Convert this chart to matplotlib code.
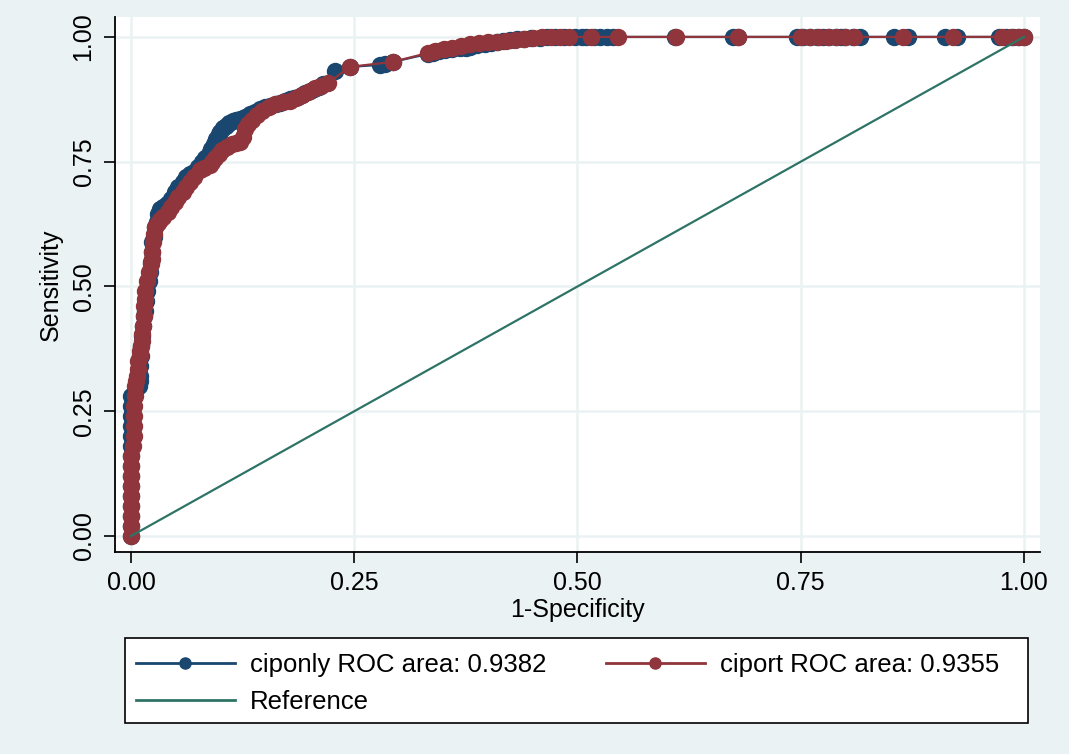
import matplotlib.pyplot as plt
from matplotlib.lines import Line2D
from matplotlib.patches import Rectangle

# ROC points: (1-specificity, sensitivity)
ciponly_pts = [
    (0, 0), (0, 0.02), (0, 0.04), (0, 0.06), (0, 0.08), (0, 0.10), (0, 0.12),
    (0, 0.14), (0, 0.16), (0, 0.18), (0, 0.20), (0, 0.22), (0, 0.24),
    (0, 0.26), (0, 0.28), (0.003, 0.285), (0.006, 0.295), (0.009, 0.30),
    (0.01, 0.31), (0.01, 0.32), (0.01, 0.34), (0.011, 0.36), (0.011, 0.38),
    (0.012, 0.40), (0.013, 0.42), (0.014, 0.44), (0.016, 0.45), (0.017, 0.47),
    (0.018, 0.49), (0.02, 0.51), (0.021, 0.53), (0.022, 0.55), (0.023, 0.57),
    (0.024, 0.59), (0.026, 0.60), (0.027, 0.62), (0.029, 0.63), (0.03, 0.645),
    (0.032, 0.655), (0.036, 0.66), (0.04, 0.665), (0.045, 0.675),
    (0.049, 0.69), (0.053, 0.70), (0.058, 0.71), (0.062, 0.72), (0.066, 0.725),
    (0.07, 0.73), (0.075, 0.74), (0.08, 0.75), (0.083, 0.757), (0.087, 0.765),
    (0.09, 0.775), (0.093, 0.785), (0.095, 0.795), (0.098, 0.805),
    (0.1, 0.81), (0.103, 0.817), (0.106, 0.822), (0.11, 0.828),
    (0.114, 0.831), (0.118, 0.833), (0.122, 0.835), (0.128, 0.84),
    (0.133, 0.845), (0.139, 0.85), (0.145, 0.855), (0.15, 0.86),
    (0.156, 0.862), (0.162, 0.865), (0.167, 0.868), (0.172, 0.872),
    (0.178, 0.875), (0.183, 0.877), (0.187, 0.88), (0.191, 0.884),
    (0.195, 0.888), (0.2, 0.892), (0.205, 0.895), (0.21, 0.9), (0.215, 0.905),
    (0.228, 0.932), (0.245, 0.94), (0.279, 0.944), (0.285, 0.946),
    (0.293, 0.95), (0.333, 0.966), (0.338, 0.968), (0.345, 0.972),
    (0.352, 0.974), (0.36, 0.975), (0.368, 0.977), (0.375, 0.978),
    (0.38, 0.98), (0.388, 0.983), (0.396, 0.986), (0.403, 0.988),
    (0.41, 0.99), (0.417, 0.992), (0.424, 0.994), (0.432, 0.995),
    (0.44, 0.996), (0.448, 0.997), (0.458, 0.998), (0.466, 0.999),
    (0.475, 1), (0.485, 1), (0.497, 1), (0.505, 1), (0.51, 1), (0.518, 1),
    (0.525, 1), (0.533, 1), (0.54, 1), (0.609, 1), (0.674, 1), (0.68, 1),
    (0.746, 1), (0.753, 1), (0.76, 1), (0.768, 1), (0.775, 1), (0.782, 1),
    (0.79, 1), (0.795, 1), (0.8, 1), (0.808, 1), (0.816, 1), (0.855, 1),
    (0.87, 1), (0.912, 1), (0.925, 1), (0.972, 1), (0.98, 1), (0.988, 1),
    (0.995, 1), (1, 1),
]

ciport_pts = [
    (0, 0), (0, 0.02), (0, 0.04), (0, 0.06), (0, 0.08), (0, 0.10), (0, 0.12),
    (0, 0.14), (0, 0.16), (0.002, 0.18), (0.003, 0.20), (0.003, 0.22),
    (0.003, 0.24), (0.003, 0.26), (0.004, 0.28), (0.005, 0.30),
    (0.006, 0.31), (0.007, 0.32), (0.008, 0.335), (0.008, 0.35),
    (0.01, 0.36), (0.01, 0.37), (0.011, 0.38), (0.012, 0.39), (0.012, 0.405),
    (0.013, 0.42), (0.014, 0.44), (0.015, 0.46), (0.016, 0.475),
    (0.016, 0.49), (0.018, 0.51), (0.02, 0.53), (0.022, 0.545),
    (0.024, 0.555), (0.024, 0.57), (0.025, 0.59), (0.026, 0.605),
    (0.027, 0.62), (0.03, 0.628), (0.032, 0.633), (0.036, 0.64),
    (0.041, 0.649), (0.045, 0.66), (0.049, 0.67), (0.053, 0.68),
    (0.058, 0.69), (0.062, 0.70), (0.066, 0.71), (0.071, 0.72),
    (0.077, 0.733), (0.082, 0.738), (0.088, 0.743), (0.091, 0.75),
    (0.094, 0.757), (0.098, 0.765), (0.102, 0.774), (0.107, 0.78),
    (0.113, 0.785), (0.118, 0.787), (0.122, 0.79), (0.125, 0.80),
    (0.128, 0.815), (0.131, 0.825), (0.135, 0.834), (0.141, 0.843),
    (0.147, 0.852), (0.154, 0.86), (0.161, 0.866), (0.17, 0.869),
    (0.178, 0.872), (0.185, 0.878), (0.191, 0.884), (0.198, 0.89),
    (0.206, 0.897), (0.213, 0.902), (0.221, 0.908), (0.245, 0.94),
    (0.293, 0.95), (0.333, 0.968), (0.34, 0.971), (0.35, 0.975),
    (0.36, 0.978), (0.37, 0.982), (0.38, 0.985), (0.39, 0.988),
    (0.40, 0.989), (0.41, 0.99), (0.42, 0.992), (0.43, 0.994), (0.44, 0.996),
    (0.45, 0.997), (0.46, 0.999), (0.47, 1), (0.48, 1), (0.49, 1),
    (0.515, 1), (0.545, 1), (0.61, 1), (0.68, 1), (0.75, 1), (0.76, 1),
    (0.77, 1), (0.78, 1), (0.79, 1), (0.80, 1), (0.81, 1), (0.865, 1),
    (0.92, 1), (0.975, 1), (0.985, 1), (0.993, 1), (1, 1),
]

ref_x = [0, 1]
ref_y = [0, 1]

ticks = [0, 0.25, 0.5, 0.75, 1.0]
tick_labels = ['0.00', '0.25', '0.50', '0.75', '1.00']

auc_ciponly = 0.9382
auc_ciport = 0.9355

BG = '#EAF2F3'
NAVY = '#1A476F'
MAROON = '#90353B'
GREEN = '#2E7466'

plt.rcParams['font.family'] = ['Liberation Sans', 'DejaVu Sans']

fig = plt.figure(figsize=(10.69, 7.54), dpi=100, facecolor=BG)
ax = fig.add_axes([0.1076, 0.2679, 0.8653, 0.7096])
ax.set_facecolor('white')

x1, y1 = zip(*ciponly_pts)
x2, y2 = zip(*ciport_pts)
ax.plot(x1, y1, '-o', color=NAVY, lw=1.6, ms=11.5, mec=NAVY, mfc=NAVY,
        zorder=3)
ax.plot(x2, y2, '-o', color=MAROON, lw=1.6, ms=11.5, mec=MAROON,
        mfc=MAROON, zorder=4)
ax.plot(ref_x, ref_y, '-', color=GREEN, lw=1.6, zorder=5)

ax.set_xlim(-0.0179, 1.018)
ax.set_ylim(-0.032, 1.04)
ax.set_xticks(ticks)
ax.set_xticklabels(tick_labels)
ax.set_yticks(ticks)
ax.set_yticklabels(tick_labels, rotation=90, va='center')
ax.tick_params(axis='both', direction='out', length=8, width=1.2,
               labelsize=18, pad=6, color='black')

ax.grid(True, color=BG, lw=1.8, zorder=0)
ax.set_axisbelow(True)
for s in ['top', 'right']:
    ax.spines[s].set_visible(False)
for s in ['left', 'bottom']:
    ax.spines[s].set_linewidth(1.3)

ax.set_xlabel('1-Specificity', fontsize=18, labelpad=2)
ax.set_ylabel('Sensitivity', fontsize=18, labelpad=6)

# legend box drawn separately, like the Stata legend region
W, H = 1069, 754
fig.patches.append(Rectangle((125 / W, 1 - 723 / H), 903 / W, 85 / H,
                             transform=fig.transFigure, facecolor='white',
                             edgecolor='black', lw=1.2, zorder=0))

h1 = Line2D([], [], color=NAVY, lw=2, marker='o', ms=8)
h2 = Line2D([], [], color=MAROON, lw=2, marker='o', ms=8)
h3 = Line2D([], [], color=GREEN, lw=2)
leg = fig.legend([h1, h3, h2],
                 [f'ciponly ROC area: {auc_ciponly:.4f}', 'Reference',
                  f'ciport ROC area: {auc_ciport:.4f}'],
                 ncol=2, loc='upper left',
                 bbox_to_anchor=(136 / W, 1 - 653 / H),
                 fontsize=18.5, handlelength=3.85, handletextpad=0.6,
                 columnspacing=2.3, frameon=False, borderaxespad=0,
                 borderpad=0, labelspacing=0.5)

fig.savefig('out.png', dpi=100, facecolor=BG)
